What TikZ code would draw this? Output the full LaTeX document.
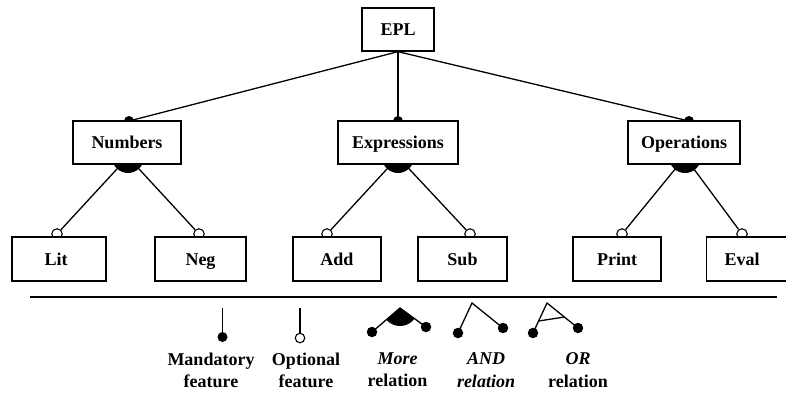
\documentclass[tikz,border=0pt]{standalone}
\usepackage{fontspec}
\setmainfont{Liberation Serif}
\usetikzlibrary{backgrounds,calc}
\begin{document}
\begin{tikzpicture}[x=1pt,y=-1pt,
  feat/.style={draw, line width=1.3pt, fill=white, inner sep=0pt,
    text height=12pt, text depth=0pt,
    font=\bfseries\fontsize{18}{20}\selectfont},
  upper/.style={feat, minimum height=43pt},
  lower/.style={feat, minimum height=44pt},
  label/.style={inner sep=0pt, text height=12pt, text depth=0pt,
    font=\bfseries\fontsize{18}{20}\selectfont},
  link/.style={line width=1.3pt},
  mand/.style={circle, fill=black, inner sep=0pt, minimum size=10pt},
  opt/.style={circle, draw, fill=white, line width=1.1pt, inner sep=0pt, minimum size=10.5pt},
  bigdot/.style={circle, fill=black, inner sep=0pt, minimum size=10.5pt},
  legtext/.style={align=center, inner sep=0pt, anchor=north,
    font=\bfseries\fontsize{18}{22.5}\selectfont}]
\useasboundingbox (0,0) rectangle (786,392);
\clip (0,0) rectangle (786,392);

% feature boxes
\node[feat, minimum width=72pt, minimum height=43pt] (epl) at (398,29.5) {EPL};
\node[upper, minimum width=108pt] (num) at (127,142.5) {Numbers};
\node[upper, minimum width=120pt] (expr) at (398,142.5) {Expressions};
\node[upper, minimum width=112pt] (ops) at (684,142.5) {Operations};

\node[lower, minimum width=94pt] (lit) at (59,259) {};
\node[label] (littext) at (56,259) {Lit};
\node[lower, minimum width=91pt] (neg) at (200.5,259) {Neg};
\node[lower, minimum width=88pt] (add) at (337,259) {Add};
\node[lower, minimum width=89pt] (sub) at (462.5,259) {Sub};
\node[lower, minimum width=88pt] (print) at (617,259) {Print};
\node[lower, minimum width=84pt, anchor=west] (eval) at (706,259) {};
\node[label] (evaltext) at (742,259) {Eval};

\begin{pgfonlayer}{background}
  % mandatory children of EPL
  \node[mand] (numtop) at (129,121) {};
  \node[mand] (exprtop) at (398,121) {};
  \node[mand] (opstop) at (689,121) {};
  \draw[link] (epl.south) -- (numtop.center);
  \draw[link] (epl.south) -- (exprtop.center);
  \draw[link] (epl.south) -- (opstop.center);

  % filled "more" relation arcs under the parents
  \coordinate (numrel) at (128,157);
  \coordinate (exprrel) at (398,157);
  \coordinate (opsrel) at (685,157);
  \fill (numrel) circle[radius=16];
  \fill (exprrel) circle[radius=16];
  \fill (opsrel) circle[radius=16];

  % optional children
  \node[opt] (littop) at (57,234) {};
  \node[opt] (negtop) at (199,234) {};
  \node[opt] (addtop) at (327,234) {};
  \node[opt] (subtop) at (470,234) {};
  \node[opt] (printtop) at (622,234) {};
  \node[opt] (evaltop) at (742,234) {};
  \draw[link] (numrel) -- (littop);
  \draw[link] (numrel) -- (negtop);
  \draw[link] (exprrel) -- (addtop);
  \draw[link] (exprrel) -- (subtop);
  \draw[link] (opsrel) -- (printtop);
  \draw[link] (opsrel) -- (evaltop);
\end{pgfonlayer}

% legend separator
\coordinate (sepl) at (30,297);
\coordinate (sepr) at (777,297);
\draw[line width=1.8pt] (sepl) -- (sepr);

% legend: mandatory feature
\coordinate (mtop) at (222.5,308);
\node[mand] (mdot) at (222.5,337) {};
\draw[link] (mtop) -- (mdot.center);

% legend: optional feature
\coordinate (otop) at (300,308);
\node[opt, minimum size=9.5pt] (odot) at (300,338) {};
\draw[link] (otop) -- (odot);

% legend: more relation
\coordinate (moreapex) at (400,308);
\node[bigdot] (morel) at (372,332) {};
\node[bigdot] (morer) at (426,327) {};
\draw[link] (morel.center) -- (moreapex) -- (morer.center);
\begin{scope}
  \clip (moreapex) -- (morel.center) -- (morer.center) -- cycle;
  \fill (moreapex) circle[radius=18];
\end{scope}

% legend: and relation
\coordinate (andapex) at (472,303);
\node[bigdot] (andl) at (458,333) {};
\node[bigdot] (andr) at (503,328) {};
\draw[link] (andl.center) -- (andapex) -- (andr.center);

% legend: or relation
\coordinate (orapex) at (547,303);
\node[bigdot] (orl) at (533,333) {};
\node[bigdot] (orr) at (578,328) {};
\draw[link] (orl.center) -- (orapex) -- (orr.center);
\draw[link] ($(orapex)!0.6!(orl.center)$) -- ($(orapex)!0.56!(orr.center)$);

% legend captions
\node[legtext] (lmand) at (211,352.5) {Mandatory\\feature};
\node[legtext] (lopt) at (306,352.5) {Optional\\feature};
\node[legtext] (lmore) at (397.5,352.5) {\itshape More\\relation};
\node[legtext] (land) at (486,352.5) {\itshape AND\\\itshape relation};
\node[legtext] (lor) at (578,352.5) {\itshape OR\\relation};
\end{tikzpicture}
\end{document}
